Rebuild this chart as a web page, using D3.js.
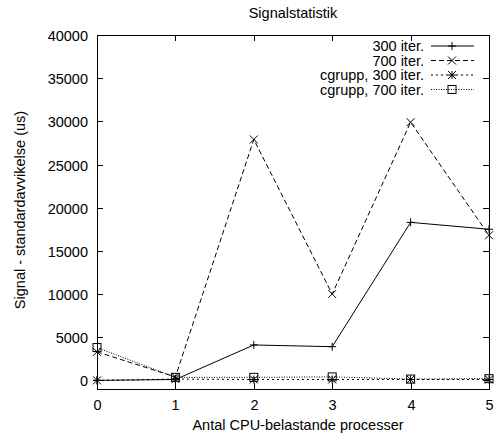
<!DOCTYPE html>
<html>
<head>
<meta charset="utf-8">
<script src="https://cdn.jsdelivr.net/npm/d3@7"></script>
<style>
  body { margin: 0; background: #fff; }
  text { font-family: "Liberation Sans", Arial, sans-serif; font-size: 14.5px; fill: #000; }
</style>
</head>
<body>
<svg id="chart" width="497" height="439"></svg>
<script>
// Number of CPU-loading processes
let processes = [0, 1, 2, 3, 4, 5];

// Standard deviation of signal latency (us), per series
let iter300 = [0, 100, 4100, 3900, 18300, 17500];
let iter700 = [3300, 400, 27900, 10000, 29900, 16800];
let cgrupp300 = [0, 150, 100, 100, 100, 100];
let cgrupp700 = [3800, 350, 350, 400, 150, 200];

let seriesNames = ['300 iter.', '700 iter.', 'cgrupp, 300 iter.', 'cgrupp, 700 iter.'];
let yTicks = [0, 5000, 10000, 15000, 20000, 25000, 30000, 35000, 40000];

let chartSpec = {left: 97, right: 489, top: 35, bottom: 389};

let series = [
  {name: seriesNames[0], values: iter300, dash: null, marker: 'plus'},
  {name: seriesNames[1], values: iter700, dash: '5,3', marker: 'cross'},
  {name: seriesNames[2], values: cgrupp300, dash: '2,3', marker: 'star'},
  {name: seriesNames[3], values: cgrupp700, dash: '1,1.5', marker: 'box'},
];

let svg = d3.select('#chart');

let x = d3.scaleLinear().domain([0, 5]).range([chartSpec.left, chartSpec.right]);
let y = d3.scaleLinear().domain([-1000, 40000]).range([chartSpec.bottom, chartSpec.top]);

let tickLen = 6;

// Plot frame
svg.append('rect')
    .attr('x', chartSpec.left + 0.5)
    .attr('y', chartSpec.top + 0.5)
    .attr('width', chartSpec.right - chartSpec.left)
    .attr('height', chartSpec.bottom - chartSpec.top)
    .attr('fill', 'none')
    .attr('stroke', '#000')
    .attr('stroke-width', 1);

// Y ticks, inward on both sides (gnuplot mirror)
yTicks.forEach(t => {
  let py = Math.round(y(t)) + 0.5;
  svg.append('line').attr('x1', chartSpec.left).attr('x2', chartSpec.left + tickLen)
      .attr('y1', py).attr('y2', py).attr('stroke', '#000');
  svg.append('line').attr('x1', chartSpec.right).attr('x2', chartSpec.right - tickLen)
      .attr('y1', py).attr('y2', py).attr('stroke', '#000');
  svg.append('text')
      .attr('x', chartSpec.left - 9)
      .attr('y', py)
      .attr('text-anchor', 'end')
      .attr('dominant-baseline', 'central')
      .text(t);
});

// X ticks
processes.forEach(p => {
  let px = Math.round(x(p)) + 0.5;
  svg.append('line').attr('x1', px).attr('x2', px)
      .attr('y1', chartSpec.bottom).attr('y2', chartSpec.bottom - tickLen).attr('stroke', '#000');
  svg.append('line').attr('x1', px).attr('x2', px)
      .attr('y1', chartSpec.top).attr('y2', chartSpec.top + tickLen).attr('stroke', '#000');
  svg.append('text')
      .attr('x', px)
      .attr('y', chartSpec.bottom + 16)
      .attr('text-anchor', 'middle')
      .attr('dominant-baseline', 'central')
      .text(p);
});

// Titles
svg.append('text').attr('x', 293).attr('y', 13)
    .attr('text-anchor', 'middle').attr('dominant-baseline', 'central')
    .text('Signalstatistik');
svg.append('text').attr('x', 298).attr('y', 425)
    .attr('text-anchor', 'middle').attr('dominant-baseline', 'central')
    .text('Antal CPU-belastande processer');
svg.append('text')
    .attr('transform', 'translate(20,210) rotate(-90)')
    .attr('text-anchor', 'middle').attr('dominant-baseline', 'central')
    .text('Signal - standardavvikelse (us)');

function drawMarker(g, kind, cx, cy) {
  let s = 4;
  let add = (x1, y1, x2, y2) => g.append('line')
      .attr('x1', cx + x1).attr('y1', cy + y1).attr('x2', cx + x2).attr('y2', cy + y2)
      .attr('stroke', '#000').attr('stroke-width', 1);
  if (kind === 'plus' || kind === 'star') {
    add(-s, 0, s, 0);
    add(0, -s, 0, s);
  }
  if (kind === 'cross' || kind === 'star') {
    add(-s, -s, s, s);
    add(-s, s, s, -s);
  }
  if (kind === 'box') {
    g.append('rect').attr('x', cx - 4).attr('y', cy - 4)
        .attr('width', 8).attr('height', 8)
        .attr('fill', 'none').attr('stroke', '#000');
  }
}

let line = d3.line().x((d, i) => x(processes[i])).y(d => y(d));

series.forEach((s, si) => {
  let g = svg.append('g').attr('class', 'series');
  g.append('path')
      .datum(s.values)
      .attr('d', line)
      .attr('fill', 'none')
      .attr('stroke', '#000')
      .attr('stroke-width', 1)
      .attr('stroke-dasharray', s.dash);
  s.values.forEach((v, i) => drawMarker(g, s.marker, x(processes[i]), y(v)));

  // Legend entry
  let ly = 46 + si * 14.5;
  svg.append('text')
      .attr('x', 424).attr('y', ly)
      .attr('text-anchor', 'end').attr('dominant-baseline', 'central')
      .text(s.name);
  let lg = svg.append('g');
  lg.append('line')
      .attr('x1', 431).attr('x2', 474).attr('y1', ly).attr('y2', ly)
      .attr('stroke', '#000').attr('stroke-width', 1)
      .attr('stroke-dasharray', s.dash);
  drawMarker(lg, s.marker, 452, ly);
});
</script>
</body>
</html>
